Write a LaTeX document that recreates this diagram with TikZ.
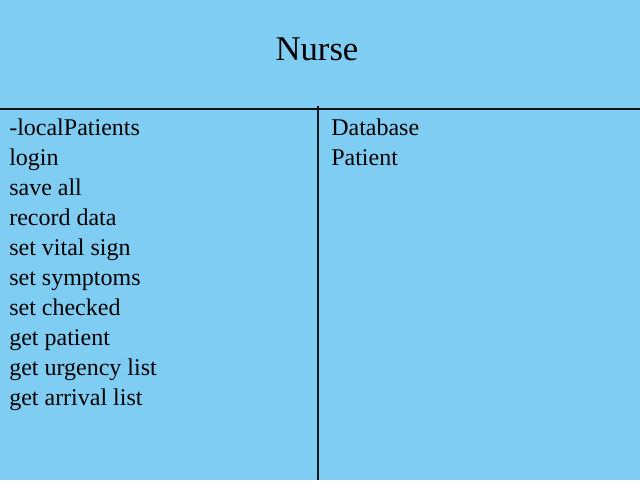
\documentclass[tikz,border=0pt]{standalone}
\usepackage{fontspec}
\setmainfont{Liberation Serif}
\definecolor{cardblue}{RGB}{128,205,243}
\definecolor{rulecol}{RGB}{15,20,25}
\begin{document}
\begin{tikzpicture}[x=0.75pt,y=-0.75pt,
  item/.style={anchor=base west,inner sep=0pt,font=\fontsize{18}{21}\selectfont},
  titletext/.style={anchor=base,inner sep=0pt,font=\fontsize{26}{30}\selectfont},
  rule/.style={draw=rulecol,line width=1.5pt}]
\fill[cardblue] (0,0) rectangle (640,480);
\useasboundingbox (0,0) rectangle (640,480);
\node[titletext] (title) at (317,60) {Nurse};
\draw[rule] (0,109) -- (640,109);
\draw[rule] (318,106) -- (318,480);
\node[item] (r1) at (9,135) {-localPatients};
\node[item] (r2) at (9,165) {login};
\node[item] (r3) at (9,195) {save all};
\node[item] (r4) at (9,225) {record data};
\node[item] (r5) at (9,255) {set vital sign};
\node[item] (r6) at (9,285) {set symptoms};
\node[item] (r7) at (9,315) {set checked};
\node[item] (r8) at (9,345) {get patient};
\node[item] (r9) at (9,375) {get urgency list};
\node[item] (r10) at (9,405) {get arrival list};
\node[item] (c1) at (331,135) {Database};
\node[item] (c2) at (331,165) {Patient};
\end{tikzpicture}
\end{document}
